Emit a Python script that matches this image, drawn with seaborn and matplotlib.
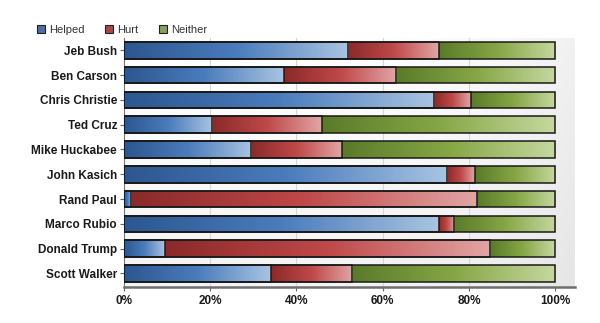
import numpy as np
import pandas as pd
import matplotlib
matplotlib.use("Agg")
import matplotlib.pyplot as plt
import seaborn as sns
from matplotlib.colors import LinearSegmentedColormap
from matplotlib.patches import Patch, Rectangle

# Share of respondents saying the debate helped / hurt / neither for each candidate (%)
candidates = ["Jeb Bush", "Ben Carson", "Chris Christie", "Ted Cruz", "Mike Huckabee",
              "John Kasich", "Rand Paul", "Marco Rubio", "Donald Trump", "Scott Walker"]
helped = [52, 37, 72, 20.5, 29.5, 75, 1.7, 73, 9.5, 34]
hurt = [21, 26, 8.5, 25.5, 21, 6.3, 80.2, 3.5, 75.5, 18.8]
neither = [100 - a - b for a, b in zip(helped, hurt)]
series = ["Helped", "Hurt", "Neither"]
xticks = [0, 20, 40, 60, 80, 100]

sns.set_theme(style="white")
plt.rcParams["font.family"] = ["Liberation Sans", "DejaVu Sans"]

# gradient ramps per series: dark on the left of a segment, light on the right
ramps = {
    "Helped": LinearSegmentedColormap.from_list("helped", ["#2c568f", "#4a7cbc", "#a9c4e2"]),
    "Hurt": LinearSegmentedColormap.from_list("hurt", ["#8a2a2a", "#c04848", "#e2a5a5"]),
    "Neither": LinearSegmentedColormap.from_list("neither", ["#5a7a2a", "#86a645", "#c6d8a0"]),
}
legend_colors = {"Helped": "#4c6fa3", "Hurt": "#ad4747", "Neither": "#8aa05c"}

fig = plt.figure(figsize=(6.0, 3.23), dpi=100)
ax = fig.add_axes([124 / 600, 1 - 287 / 323, (575 - 124) / 600, (287 - 38) / 323])

df = pd.DataFrame({"candidate": candidates, "Helped": helped, "Hurt": hurt, "Neither": neither})
df["c_helped"] = df["Helped"]
df["c_hurt"] = df["Helped"] + df["Hurt"]
df["c_total"] = df["c_hurt"] + df["Neither"]

# stacked look from cumulative layers, longest first
layers = [("Neither", "c_total", "c_hurt"), ("Hurt", "c_hurt", "c_helped"), ("Helped", "c_helped", None)]
segments = []
for name, col, prev in layers:
    n0 = len(ax.patches)
    sns.barplot(data=df, x=col, y="candidate", orient="h", width=0.67,
                color=legend_colors[name], ax=ax, errorbar=None)
    new = ax.patches[n0:]
    starts = df[prev].tolist() if prev else [0] * len(df)
    for p, s in zip(new, starts):
        segments.append((name, p, s))

grad = np.linspace(0, 1, 256).reshape(1, -1)
for name, p, s in segments:
    x0 = p.get_x()
    w = p.get_width()
    y0 = p.get_y()
    h = p.get_height()
    p.set_facecolor("none")
    p.set_edgecolor("#1a1a1a")
    p.set_linewidth(1.1)
    p.set_zorder(4)
    im = ax.imshow(grad, cmap=ramps[name], aspect="auto", interpolation="bilinear",
                   extent=(s, x0 + w, y0 + h, y0), zorder=3)
    clip = Rectangle((s, y0), x0 + w - s, h, transform=ax.transData)
    im.set_clip_path(clip)

# soft grey backdrop behind the plot area
yy, xx = np.mgrid[0:1:50j, 0:1:50j]
bg = 0.45 * yy + 0.55 * xx ** 4
ax.imshow(bg, cmap=LinearSegmentedColormap.from_list("bg", ["#ffffff", "#e6e6e6"]),
          extent=(0, 1, 0, 1), transform=ax.transAxes, aspect="auto", zorder=0,
          origin="upper", interpolation="bilinear")

ax.set_xlim(0, 104.6)
ax.set_ylim(9.55, -0.5)
ax.set_xticks(xticks)
ax.set_xticklabels([f"{t}%" for t in xticks], fontsize=8.5, fontweight="bold", color="#1a1a1a")
ax.set_yticks(range(len(candidates)))
ax.set_yticklabels(candidates, fontsize=8.5, fontweight="bold", color="#1a1a1a")
ax.set_xlabel("")
ax.set_ylabel("")
for t in xticks[1:-1]:
    ax.axvline(t, color="#d6d6d6", lw=0.8, zorder=1)

ax.tick_params(axis="y", length=3, width=0.8, color="#666666", pad=2, left=True)
ax.tick_params(axis="x", length=3, width=0.8, color="#666666", pad=3, bottom=True)
for side in ["top", "right"]:
    ax.spines[side].set_visible(False)
ax.spines["left"].set_color("#777777")
ax.spines["left"].set_linewidth(0.8)
ax.spines["bottom"].set_color("#6e6e6e")
ax.spines["bottom"].set_linewidth(1.8)

handles = [Patch(facecolor=legend_colors[s], edgecolor="#222222", linewidth=0.8, label=s)
           for s in series]
fig.legend(handles=handles, loc="upper left", bbox_to_anchor=(0.045, 0.955), ncol=3,
           frameon=False, fontsize=8, handlelength=0.7, handleheight=0.7,
           handletextpad=0.35, columnspacing=1.9, labelcolor="#333333")

fig.savefig("out.png", dpi=100)
